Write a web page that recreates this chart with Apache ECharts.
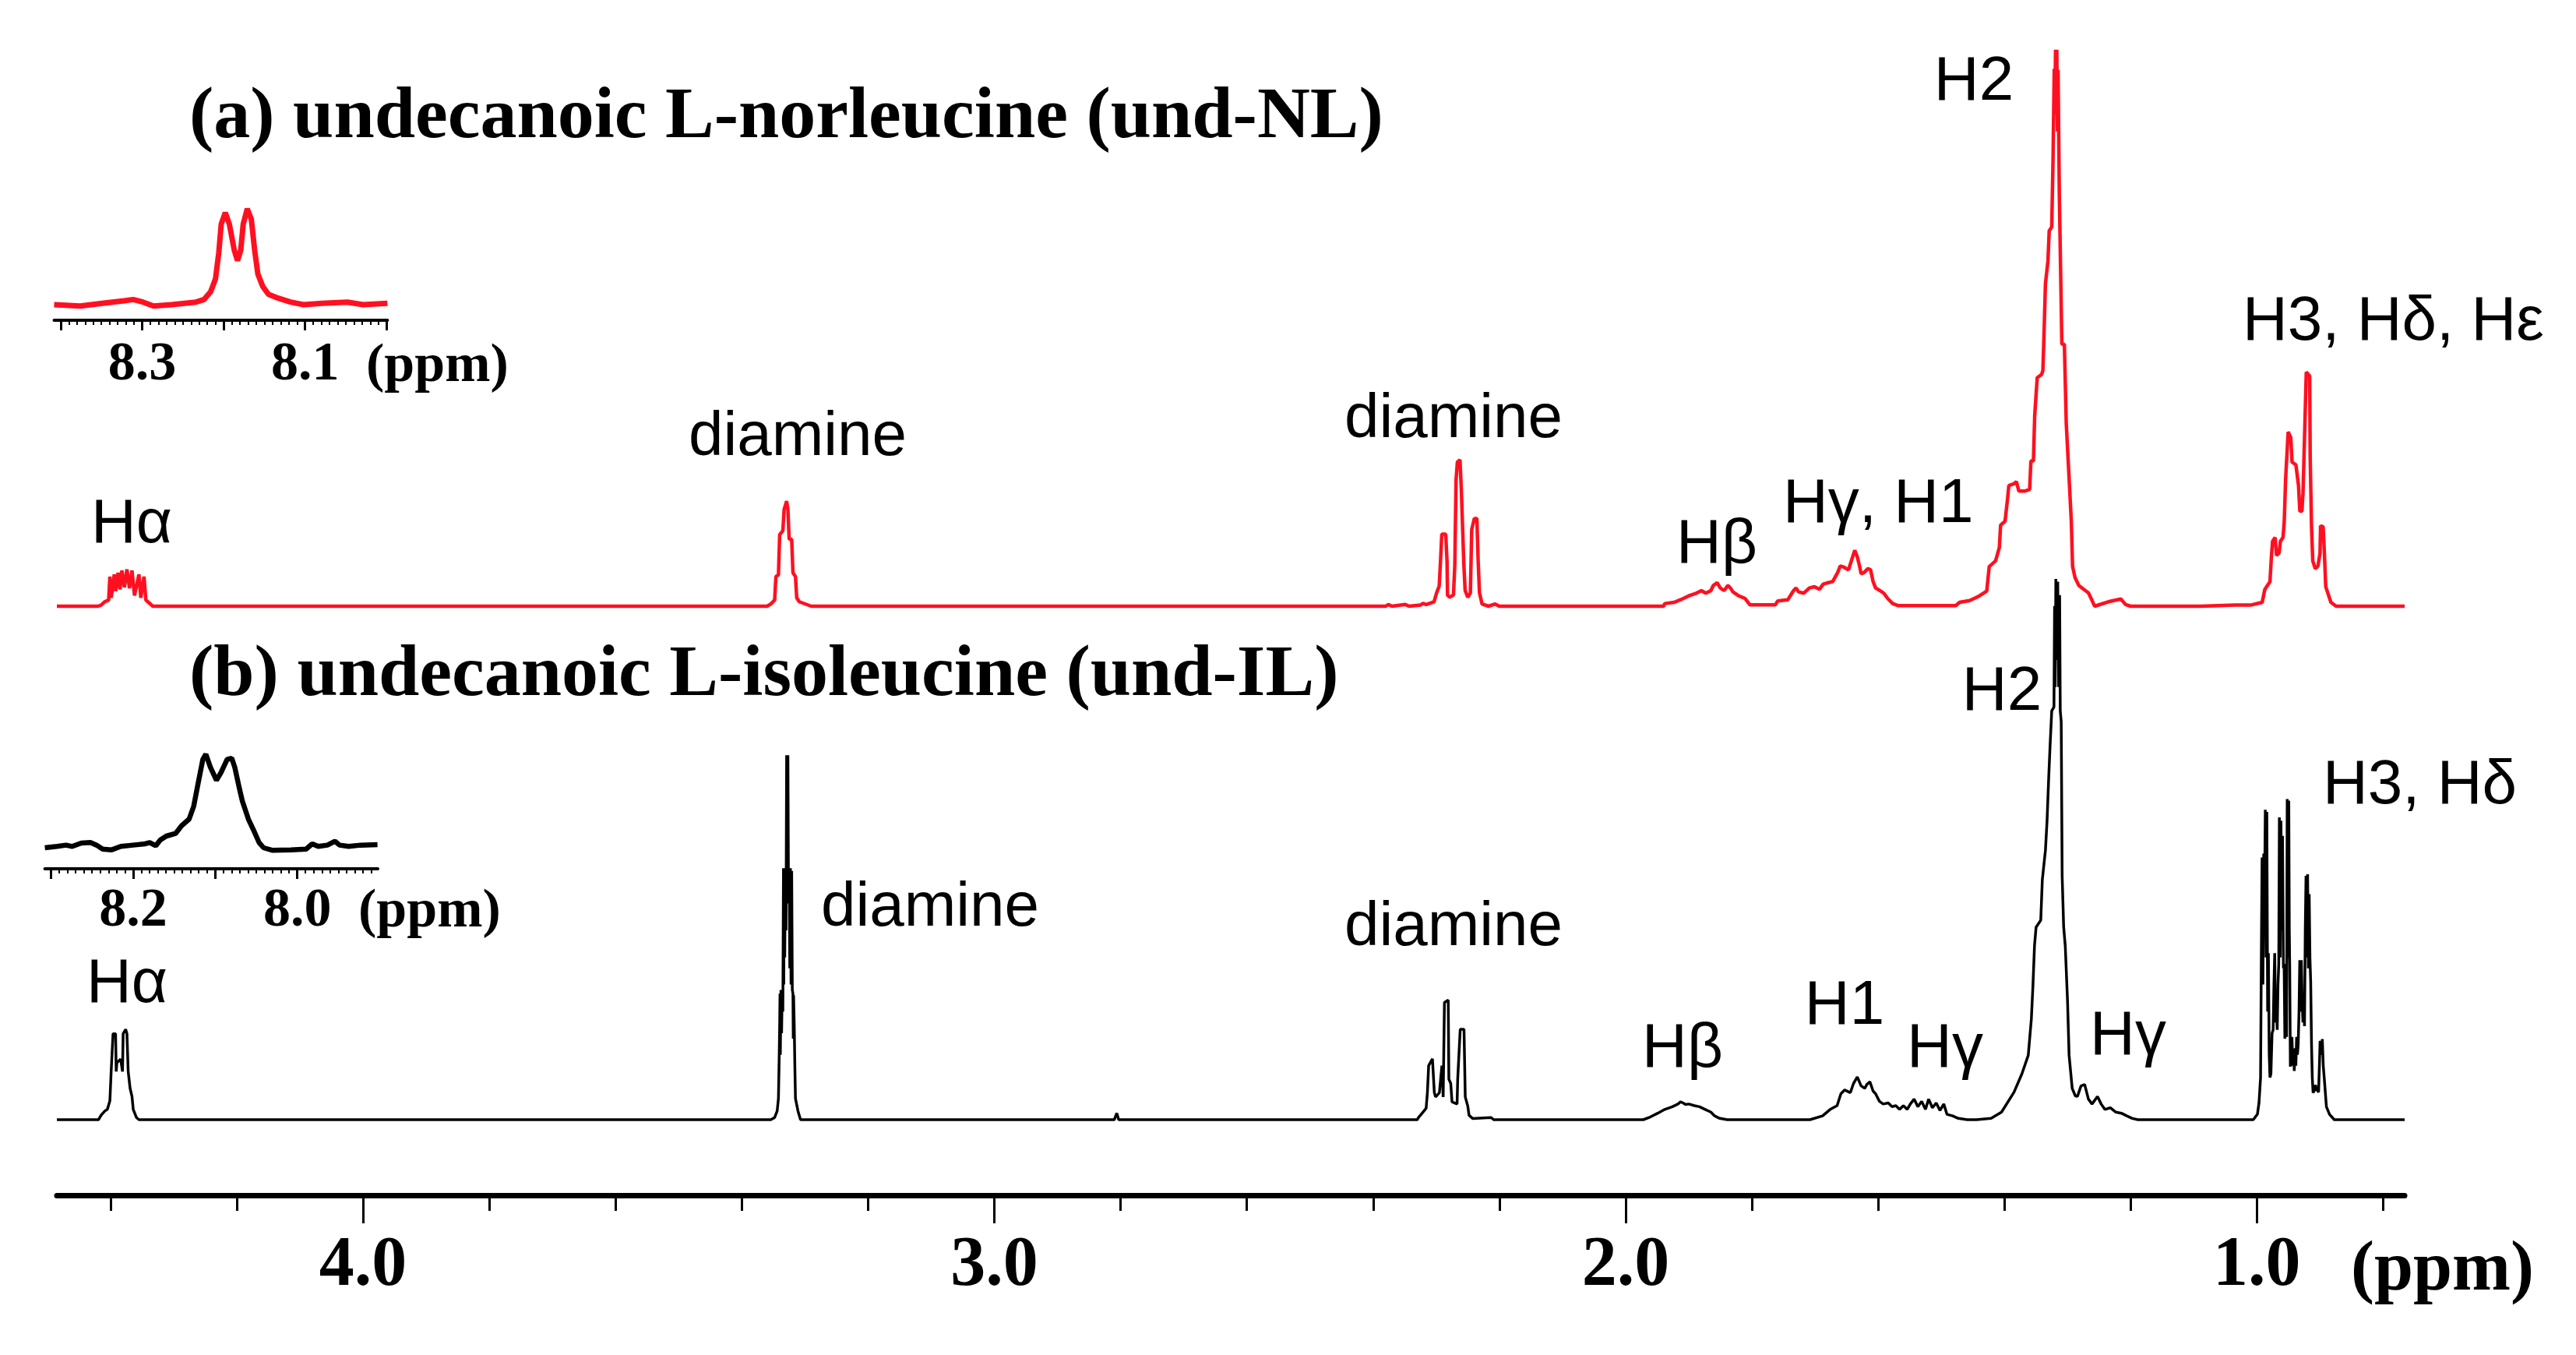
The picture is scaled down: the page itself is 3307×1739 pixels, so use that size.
<!DOCTYPE html>
<html><head><meta charset="utf-8">
<script src="https://cdn.jsdelivr.net/npm/echarts@6/dist/echarts.min.js"></script>
<style>html,body{margin:0;padding:0;background:#fff}#c{width:3307px;height:1739px}</style>
</head><body><div id="c"></div>
<script>
// ---- DATA: [chemical shift (ppm), relative intensity (% of H2 peak)] ----
const redSpectrum = [
[4.485,0],[4.420,0],[4.415,0.2],[4.409,0.8],[4.403,1.1],[4.401,5.3],[4.399,1.5],[4.394,5.7],[4.392,2.7],[4.388,6.0],[4.385,3.0],[4.382,6.4],[4.378,3.4],[4.374,6.6],[4.370,3.2],[4.366,6.4],[4.362,1.9],[4.355,5.7],[4.352,1.5],[4.347,5.3],[4.344,1.1],[4.341,0.8],[4.333,0],
[3.360,0],[3.354,0.4],[3.348,1.1],[3.346,5.3],[3.342,5.6],[3.340,12.8],[3.335,13.5],[3.333,17.3],[3.329,18.8],[3.327,17.3],[3.325,12.0],[3.321,12.0],[3.319,6.0],[3.315,5.3],[3.313,1.5],[3.309,0.8],[3.290,0],
[2.380,0],[2.376,0.3],[2.370,0],[2.349,0.3],[2.343,0],[2.325,0.2],[2.321,0.5],[2.316,0.3],
[2.3035,0.8],[2.2994,2.4],[2.2953,3.6],[2.2932,8.1],[2.2912,12.9],[2.2850,12.9],[2.2829,8.1],[2.2821,2.0],[2.2788,1.6],[2.2727,2.0],[2.2706,7.3],[2.2686,22.6],[2.2665,25.8],[2.2624,26.2],[2.2603,21.0],[2.2583,21.0],[2.2562,7.3],[2.2542,2.8],[2.2500,1.6],[2.2459,2.4],[2.2438,13.7],[2.2397,15.7],[2.2356,15.7],[2.2336,8.1],[2.2315,2.4],[2.2274,0.4],[2.2171,0],[2.2068,0.4],[2.200,0],
[1.940,0],[1.938,0.47],[1.923,0.7],[1.913,1.16],[1.900,1.86],[1.888,2.33],[1.880,2.79],[1.873,2.33],[1.865,2.79],[1.861,3.72],[1.855,4.19],[1.850,3.26],[1.844,2.79],[1.838,3.72],[1.834,3.26],[1.830,2.56],[1.821,1.86],[1.811,1.40],[1.803,0.23],[1.763,0.23],[1.759,0.93],[1.743,1.16],[1.734,2.79],[1.730,3.26],[1.726,2.56],[1.718,2.33],[1.709,3.26],[1.701,3.49],[1.693,3.02],[1.687,3.95],[1.680,4.19],[1.672,4.42],[1.664,6.05],[1.660,7.21],[1.654,6.98],[1.647,6.51],[1.643,7.91],[1.637,10.0],[1.633,8.84],[1.629,6.98],[1.627,5.81],[1.622,6.05],[1.616,6.74],[1.612,6.51],[1.608,4.42],[1.604,3.26],[1.597,2.79],[1.591,2.33],[1.585,1.40],[1.577,0.47],[1.568,0.1],[1.477,0.1],
[1.471,0.7],[1.455,1.0],[1.442,1.7],[1.428,2.7],[1.424,7.1],[1.414,8.1],[1.408,10.5],[1.406,14.5],[1.399,15.2],[1.395,19.2],[1.393,21.6],[1.385,21.9],[1.381,22.3],[1.377,20.6],[1.368,20.6],[1.360,20.9],[1.358,26.0],[1.354,26.0],[1.352,34.1],[1.348,40.9],[1.341,41.5],[1.339,42.2],[1.337,49.6],[1.335,57.7],[1.331,61.8],[1.329,67.2],[1.325,67.9],[1.323,79.7],[1.321,96.2],[1.320,88],[1.319,99.6],[1.318,90],[1.317,99.6],[1.316,85],[1.315,96],[1.313,73.9],[1.311,73.9],[1.309,46.9],[1.305,46.9],[1.302,32.7],[1.298,24.0],[1.294,15.2],[1.292,7.1],[1.288,5.1],[1.282,3.7],[1.274,3.0],[1.267,2.4],[1.261,1.0],[1.257,0],[1.2354,0.8],[1.2155,1.3],[1.208,0.3],[1.200,0],
[1.0882,0],[1.0348,0.2],[1.0101,0.2],[0.9916,0.7],[0.9875,3.0],[0.9793,4.4],[0.9772,8.6],[0.9752,11.6],[0.9711,12.3],[0.9690,9.1],[0.9649,9.5],[0.9628,11.6],[0.9587,12.3],[0.9567,15.1],[0.9546,22.6],[0.9505,31.2],[0.9464,30.2],[0.9443,25.8],[0.9382,25.3],[0.9341,21.6],[0.9320,17.0],[0.9287,17.0],[0.9270,20.2],[0.9246,30.0],[0.9218,41.9],[0.9164,41.2],[0.9156,26.7],[0.9135,14.2],[0.9115,8.1],[0.9074,6.7],[0.9033,7.2],[0.9000,9.5],[0.8992,14.4],[0.8951,14.2],[0.8931,9.5],[0.8910,3.5],[0.8869,2.1],[0.8828,0.7],[0.8746,0],[0.766,0]
];
const blackSpectrum = [
[4.485,0],[4.419,0],[4.415,0.8],[4.409,1.6],[4.405,1.9],[4.401,3.5],[4.399,8.9],[4.396,15.9],[4.392,15.9],[4.391,8.9],[4.390,10.5],[4.384,11.2],[4.381,8.9],[4.380,15.9],[4.376,16.7],[4.374,15.9],[4.372,8.9],[4.369,5.8],[4.366,4.3],[4.364,1.9],[4.359,0.4],[4.355,0],
[3.360,0],[3.354,0],[3.348,0.4],[3.344,1.6],[3.342,3.9],[3.341,10.1],[3.340,17.8],[3.3395,23.3],[3.339,12],[3.338,24],[3.337,16],[3.336,24],[3.335,20],[3.334,46.5],[3.3335,25],[3.333,46.5],[3.332,30],[3.331,46.5],[3.330,35],[3.329,67.4],[3.328,40],[3.327,67.4],[3.326,40],[3.325,46.5],[3.324,28],[3.323,46.5],[3.322,25],[3.321,46],[3.320,24],[3.319,23.3],[3.3185,15],[3.318,23],[3.317,17.8],[3.316,10],[3.315,3.9],[3.311,1.6],[3.307,0],
[2.810,0],[2.806,1.2],[2.803,0],
[2.330,0],[2.328,0.4],[2.322,1.25],[2.316,2.1],[2.314,5.0],[2.312,10],[2.306,11.25],[2.303,5.0],[2.301,4.2],[2.295,5.0],[2.293,7.5],[2.291,10],[2.289,4.2],[2.287,21.7],[2.281,22.1],[2.280,7.5],[2.277,6.7],[2.275,3.3],[2.267,2.9],[2.266,7.5],[2.262,16.7],[2.256,16.7],[2.254,4.2],[2.250,2.5],[2.248,0.8],[2.242,0.2],[2.213,0.4],[2.209,0],
[1.972,0],[1.961,0.5],[1.949,1.2],[1.938,1.9],[1.926,2.4],[1.917,2.9],[1.913,3.3],[1.909,3.1],[1.905,2.8],[1.900,2.9],[1.891,2.6],[1.883,2.4],[1.874,1.9],[1.865,1.4],[1.859,0.7],[1.851,0.24],[1.839,0],[1.708,0],
[1.688,0.7],[1.676,1.9],[1.665,2.6],[1.659,4.8],[1.653,5.5],[1.644,5.0],[1.639,6.7],[1.633,7.9],[1.627,6.25],[1.621,5.8],[1.618,6.5],[1.613,7.0],[1.608,5.3],[1.604,4.8],[1.598,3.4],[1.592,2.9],[1.584,3.1],[1.578,2.4],[1.572,2.6],[1.566,1.9],[1.560,2.6],[1.554,1.9],[1.549,2.9],[1.543,3.8],[1.537,2.4],[1.531,3.4],[1.525,1.9],[1.520,3.8],[1.514,2.2],[1.508,3.1],[1.502,1.7],[1.496,2.9],[1.491,1.0],[1.482,0.7],[1.473,0.24],[1.459,0],[1.444,0],
[1.421,0.24],[1.4045,1.4],[1.3847,5.1],[1.3722,8.5],[1.3622,11.9],[1.3573,18.6],[1.3548,24.7],[1.3523,32.2],[1.3498,35.6],[1.3424,36.9],[1.3399,44.4],[1.3350,49.8],[1.3324,55.3],[1.3300,62.7],[1.3275,69.5],[1.3250,75.6],[1.3215,76.3],[1.3205,95],[1.3195,80],[1.3185,100],[1.3170,85],[1.3155,99.5],[1.3140,80],[1.3125,97],[1.3115,75.6],[1.3100,73.6],[1.3085,45.1],[1.3061,35.6],[1.3036,32.2],[1.3000,22.0],[1.2975,11.9],[1.2926,5.8],[1.2876,4.4],
[1.2843,4.3],[1.2786,6.25],[1.2728,6.5],[1.2669,3.8],[1.2612,2.9],[1.2525,4.3],[1.2467,2.9],[1.2409,1.9],[1.2322,2.2],[1.2235,1.4],[1.2148,1.2],[1.2061,0.7],[1.1974,0.24],[1.1887,0],
[1.0057,0],[0.9992,1.0],[0.9967,3.1],[0.9942,7.8],[0.9930,30],[0.9918,48.5],[0.9905,25],[0.9892,49.2],[0.9880,40],[0.9867,57.3],[0.9855,30],[0.9843,56.9],[0.9830,20],[0.9818,30.8],[0.9805,12],[0.9793,7.8],[0.9778,8.5],[0.9760,16],[0.9743,16.6],[0.9730,25],[0.9718,30.8],[0.9705,18],[0.9693,20.7],[0.9678,16.6],[0.9666,25],[0.9654,28.8],[0.9644,55.9],[0.9631,30],[0.9619,55.3],[0.9606,35],[0.9594,52.5],[0.9580,28],[0.9569,28.8],[0.9557,15],[0.9545,16.6],[0.9530,15.3],[0.9525,40],[0.9520,59.3],[0.9508,30],[0.9495,59.0],[0.9487,35],[0.9480,28],[0.9470,9.8],[0.9458,14],[0.9445,15.3],[0.9432,10],[0.9420,12.5],[0.9408,9],[0.9395,13.2],[0.9383,10],[0.9371,15.3],[0.9358,12],[0.9346,13.9],[0.9333,20],[0.9321,29.5],[0.9308,20],[0.9296,29.5],[0.9283,22],[0.9271,18.0],[0.9258,22],[0.9246,17.3],[0.9234,35],[0.9222,45.1],[0.9210,30],[0.9197,45.4],[0.9185,28],[0.9172,41.7],[0.9160,30],[0.9148,25.4],[0.9135,14],[0.9123,7.8],[0.9110,5],[0.9097,5.1],[0.9085,5.5],[0.9073,6.4],[0.9048,5.5],[0.9023,5.1],[0.9010,10],[0.8999,14.6],[0.8982,12],[0.8964,14.9],[0.8949,10],[0.8934,7.8],[0.8899,2.4],[0.8850,1.0],[0.8775,0],[0.766,0]
];
const redInset = [
[8.408,0],[8.376,-1.4],[8.349,1.4],[8.322,4],[8.311,5.4],[8.299,2.7],[8.286,-1.4],[8.264,0],[8.234,2.7],[8.224,5.4],[8.216,13.5],[8.210,27],[8.206,54],[8.203,84],[8.198,96],[8.193,84],[8.187,57],[8.183,46],[8.179,57],[8.176,84],[8.171,100],[8.166,89],[8.162,57],[8.158,32],[8.152,19],[8.145,10.8],[8.133,6.8],[8.118,2.7],[8.102,0],[8.079,1.4],[8.048,2.7],[8.029,0],[7.999,1.4]
];
const blackInset = [
[8.3075,0],[8.2927,1.4],[8.2816,2.8],[8.2742,1.4],[8.2631,5],[8.2520,5.6],[8.2445,2.8],[8.2371,-1.4],[8.2261,-2.2],[8.2150,1.4],[8.2002,2.8],[8.1854,4.2],[8.1798,5.6],[8.1724,2.2],[8.1669,8.3],[8.1595,12.5],[8.1483,15.3],[8.1410,23.6],[8.1318,30.6],[8.1262,44.4],[8.1207,69.4],[8.1151,94.4],[8.1114,100],[8.1059,86.1],[8.0985,72.2],[8.0929,80.6],[8.0855,94.4],[8.0799,95.8],[8.0762,86.1],[8.0707,63.9],[8.0670,50],[8.0596,30.6],[8.0522,16.7],[8.0466,5.6],[8.0411,0],[8.0300,-2.8],[8.0078,-2.2],[7.9893,-1.4],[7.9819,4.2],[7.9745,1.4],[7.9634,2.8],[7.9541,6.9],[7.9486,2.8],[7.9375,1.4],[7.9227,2.8],[7.9024,3.3]
];
// ---- axes / ticks ----
const mainRange = [0.766, 4.485];
const mainMinorTicks = [0.8,1.0,1.2,1.4,1.6,1.8,2.0,2.2,2.4,2.6,2.8,3.0,3.2,3.4,3.6,3.8,4.0,4.2,4.4];
const mainMajorTicks = [1.0,2.0,3.0,4.0];
const insetARange = [7.999, 8.408];
const insetAMajor = [8.0,8.1,8.2,8.3,8.4];
const insetALabels = [8.1,8.3];
const insetBRange = [7.902, 8.3075];
const insetBMajor = [7.9,8.0,8.1,8.2,8.3];
const insetBLabels = [8.0,8.2];
const axisUnit = '(ppm)';
const titleA = '(a) undecanoic L-norleucine (und-NL)';
const titleB = '(b) undecanoic L-isoleucine (und-IL)';

function minorSteps(lo, hi){ const a=[]; for(let v=Math.ceil(lo*100); v<=Math.floor(hi*100); v++) a.push(v/100); return a; }

const RED = '#ff1020', BLK = '#000';
const SERIF = '"Liberation Serif","Times New Roman",serif';
const SANS = '"Liberation Sans",Arial,sans-serif';

function hiddenX(grid, range){ return {type:'value', gridIndex:grid, min:range[0], max:range[1], inverse:true, show:false}; }
function tickAxis(grid, range, offset, ticks, len, w, line, labels, fs, margin){
  return {type:'value', gridIndex:grid, min:range[0], max:range[1], inverse:true, position:'bottom', offset:offset,
    axisLine:{show:line>0, onZero:false, lineStyle:{color:BLK, width:line||1}},
    axisTick:{show:true, inside:false, length:len, customValues:ticks, lineStyle:{color:BLK, width:w}},
    axisLabel: labels ? {show:true, customValues:labels, margin:margin, formatter:v=>Number(v).toFixed(1),
        fontFamily:SERIF, fontWeight:'bold', fontSize:fs, color:BLK} : {show:false},
    splitLine:{show:false}};
}
function yAx(grid){ return {type:'value', gridIndex:grid, min:0, max:100, show:false}; }

function txt(t, x, base, size, font, align, bold){
  const y = base - 0.345*size;
  return {type:'text', x:x, y:y, z:100, style:{text:t, font:(bold?'bold ':'')+size+'px '+font, fill:BLK,
    textAlign:align, align:align, textVerticalAlign:'middle', verticalAlign:'middle'}};
}

const chart = echarts.init(document.getElementById('c'), null, {renderer:'canvas'});
chart.setOption({
  animation:false,
  backgroundColor:'#fff',
  grid:[
    {left:73, right:220, top:61, bottom:961},
    {left:73, right:220, top:743, bottom:302},
    {left:69.5, right:2809.6, top:268, bottom:1348},
    {left:57.6, right:2822, top:968, bottom:651}
  ],
  xAxis:[
    hiddenX(0, mainRange),
    tickAxis(1, mainRange, 97, mainMinorTicks, 20, 3, 7, null),
    tickAxis(1, mainRange, 97, mainMajorTicks, 36, 3, 0, mainMajorTicks, 90, 47),
    tickAxis(2, insetARange, 20, insetAMajor, 13, 3, 4, insetALabels, 70, 23),
    tickAxis(2, insetARange, 20, minorSteps(insetARange[0], insetARange[1]), 6, 2, 0, null),
    tickAxis(3, insetBRange, 27, insetBMajor, 13, 3, 4, insetBLabels, 70, 20),
    tickAxis(3, insetBRange, 27, minorSteps(insetBRange[0], insetBRange[1]), 6, 2, 0, null)
  ],
  yAxis:[yAx(0), yAx(1), yAx(2), yAx(3)],
  series:[
    {type:'line', xAxisIndex:0, yAxisIndex:0, data:redSpectrum, showSymbol:false, clip:false, lineStyle:{color:RED, width:4.5}, z:5},
    {type:'line', xAxisIndex:1, yAxisIndex:1, data:blackSpectrum, showSymbol:false, clip:false, lineStyle:{color:BLK, width:3.5}, z:5},
    {type:'line', xAxisIndex:3, yAxisIndex:2, data:redInset, showSymbol:false, clip:false, lineStyle:{color:RED, width:7}, z:5},
    {type:'line', xAxisIndex:5, yAxisIndex:3, data:blackInset, showSymbol:false, clip:false, lineStyle:{color:BLK, width:6.5}, z:5}
  ],
  graphic:[
    txt(titleA, 243, 184, 94, SERIF, 'left', true),
    txt(titleB, 243, 900, 94, SERIF, 'left', true),
    txt(axisUnit, 3018, 1663, 90, SERIF, 'left', true),
    txt(axisUnit, 470, 495, 70, SERIF, 'left', true),
    txt(axisUnit, 460, 1195, 70, SERIF, 'left', true),
    // red labels
    txt('H2', 2534, 134, 80, SANS, 'center'),
    txt('H3, H\u03b4, H\u03b5', 2879, 442, 80, SANS, 'left'),
    txt('diamine', 1024, 590, 80, SANS, 'center'),
    txt('diamine', 1866, 567, 80, SANS, 'center'),
    txt('H\u03b1', 169, 702, 80, SANS, 'center'),
    txt('H\u03b2', 2204, 728, 80, SANS, 'center'),
    txt('H\u03b3, H1', 2289, 676, 80, SANS, 'left'),
    // black labels
    txt('H2', 2570, 917, 80, SANS, 'center'),
    txt('H3, H\u03b4', 2982, 1037, 80, SANS, 'left'),
    txt('diamine', 1194, 1194, 80, SANS, 'center'),
    txt('diamine', 1866, 1219, 80, SANS, 'center'),
    txt('H\u03b1', 163, 1292, 80, SANS, 'center'),
    txt('H\u03b2', 2160, 1375, 80, SANS, 'center'),
    txt('H1', 2368, 1320, 80, SANS, 'center'),
    txt('H\u03b3', 2497, 1375, 80, SANS, 'center'),
    txt('H\u03b3', 2732, 1359, 80, SANS, 'center')
  ]
});
</script></body></html>
